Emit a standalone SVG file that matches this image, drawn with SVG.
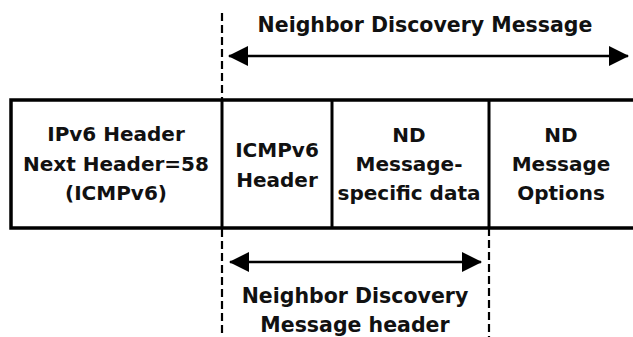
<svg xmlns="http://www.w3.org/2000/svg" width="633" height="337" viewBox="0 0 633 337">
<style>
text{font-family:"DejaVu Sans","Verdana",sans-serif;font-weight:bold;font-size:20px;fill:#111;text-anchor:middle}
.big{font-size:20.5px}
.cell{fill:#fff;stroke:#000;stroke-width:3.5}
.div{stroke:#000;stroke-width:3}
.guide{stroke:#000;stroke-width:2.2;stroke-dasharray:8 4;fill:none}
.arrow{stroke:#000;stroke-width:2.6;fill:none;marker-start:url(#ah);marker-end:url(#ah)}
</style>
<defs>
<marker id="ah" markerUnits="userSpaceOnUse" markerWidth="20" markerHeight="22" viewBox="0 0 20 22" refX="19" refY="11" orient="auto-start-reverse">
<path d="M0,1 L20,11 L0,21 z" fill="#000"/>
</marker>
</defs>
<rect x="0" y="0" width="633" height="337" fill="#fff"/>
<g id="guides">
<line class="guide" x1="222" y1="13" x2="222" y2="337"/>
<line class="guide" x1="489" y1="228" x2="489" y2="337"/>
</g>
<g id="packet">
<rect class="cell" x="11" y="100" width="626" height="128"/>
</g>
<g id="ipv6-header">
<text x="116" y="141">IPv6 Header</text>
<text x="116" y="171">Next Header=58</text>
<text x="116" y="200">(ICMPv6)</text>
</g>
<g id="icmpv6-header">
<line class="div" x1="222" y1="100" x2="222" y2="228"/>
<text x="277" y="157">ICMPv6</text>
<text x="277" y="187">Header</text>
</g>
<g id="nd-data">
<line class="div" x1="332" y1="100" x2="332" y2="228"/>
<text x="409" y="142">ND</text>
<text x="409" y="171">Message-</text>
<text x="409" y="200">specific data</text>
</g>
<g id="nd-options">
<line class="div" x1="489" y1="100" x2="489" y2="228"/>
<text x="561" y="142">ND</text>
<text x="561" y="171">Message</text>
<text x="561" y="200">Options</text>
</g>
<g id="connectors">
<line class="arrow" x1="229" y1="56" x2="628" y2="56"/>
<line class="arrow" x1="230" y1="262" x2="481" y2="262"/>
</g>
<g id="labels">
<text class="big" x="425" y="32">Neighbor Discovery Message</text>
<text class="big" x="355" y="303">Neighbor Discovery</text>
<text class="big" x="355" y="332">Message header</text>
</g>
</svg>
